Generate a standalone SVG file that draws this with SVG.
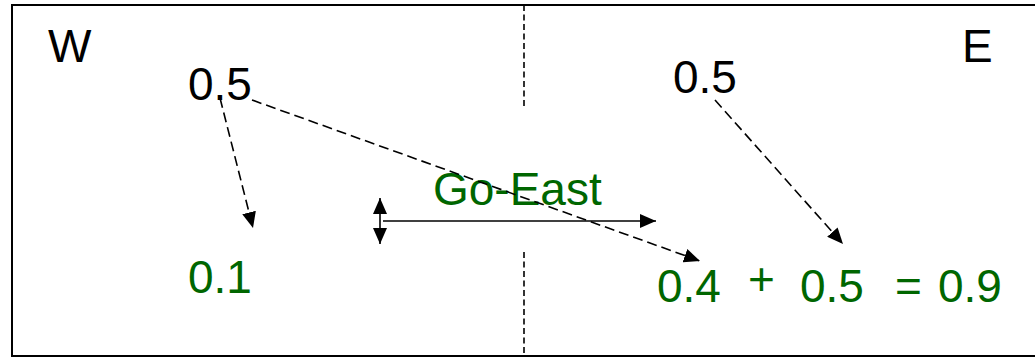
<svg xmlns="http://www.w3.org/2000/svg" width="1035" height="359" viewBox="0 0 1035 359">
<style>
text{font-family:"Liberation Sans",Arial,sans-serif;font-size:46px}
.k{fill:#000}
.g{fill:#006600}
.d{stroke:#000;stroke-width:1.6;stroke-dasharray:10,5;fill:none}
.s{stroke:#000;stroke-width:1.6;fill:none}
.div{stroke:#000;stroke-width:1.6;stroke-dasharray:6,3.5;fill:none}
</style>
<defs>
<marker id="ah2" viewBox="0 0 16 14" refX="16" refY="7" markerWidth="16" markerHeight="14" markerUnits="userSpaceOnUse" orient="auto-start-reverse">
<path d="M0,0 L16,7 L0,14 z" fill="#000"/>
</marker>
</defs>
<g id="frame">
<rect x="12" y="5" width="1040" height="351" fill="#fff" stroke="#000" stroke-width="2"/>
<line class="div" x1="524" y1="5" x2="524" y2="109"/>
<line class="div" x1="524" y1="252" x2="524" y2="356"/>
</g>
<g id="labels">
<text id="W" class="k" x="48" y="62">W</text>
<text id="E" class="k" x="962" y="62">E</text>
</g>
<g id="w-top"><text class="k" x="188" y="100">0.5</text></g>
<g id="e-top"><text class="k" x="673" y="93">0.5</text></g>
<g id="w-bottom"><text class="g" x="188" y="293">0.1</text></g>
<g id="go-east"><text class="g" x="433" y="205">Go-East</text></g>
<g id="e-bottom">
<text class="g" x="657" y="302">0.4</text>
<text class="g" x="748" y="295">+</text>
<text class="g" x="800" y="302">0.5</text>
<text class="g" x="895" y="302">=</text>
<text class="g" x="938" y="302">0.9</text>
</g>
<g id="connectors">
<line class="d" x1="220" y1="98" x2="253" y2="228" marker-end="url(#ah2)"/>
<line class="d" x1="252" y1="100" x2="700" y2="261" marker-end="url(#ah2)"/>
<line class="d" x1="715" y1="100" x2="843" y2="244" marker-end="url(#ah2)"/>
<line class="s" x1="383" y1="221" x2="656" y2="221" marker-end="url(#ah2)"/>
<line class="s" x1="380" y1="198" x2="380" y2="244" marker-start="url(#ah2)" marker-end="url(#ah2)"/>
</g>
</svg>
